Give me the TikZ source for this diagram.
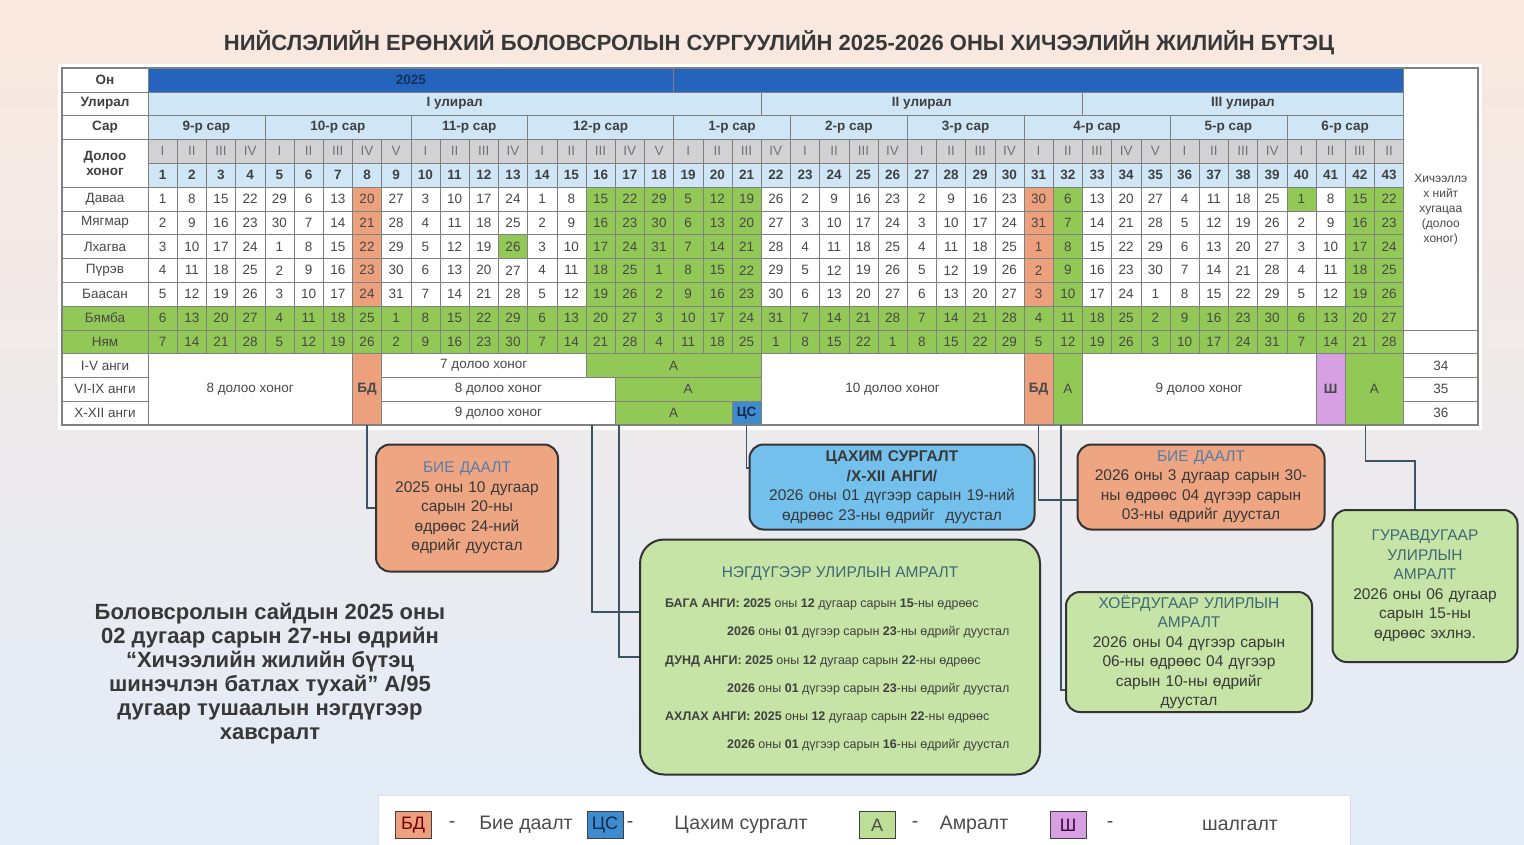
\documentclass[tikz,border=0pt]{standalone}
\usepackage{fontspec}
\setmainfont{Liberation Sans}

\definecolor{bgtop}{RGB}{249,232,222}
\definecolor{bgmid}{RGB}{236,246,234}
\definecolor{bgbot}{RGB}{226,236,249}
\definecolor{yearblue}{RGB}{36,100,188}
\definecolor{paleblue}{RGB}{206,230,246}
\definecolor{weekgray}{RGB}{210,210,212}
\definecolor{offgreen}{RGB}{146,200,86}
\definecolor{selforange}{RGB}{236,160,124}
\definecolor{onlineblue}{RGB}{62,140,205}
\definecolor{exampink}{RGB}{214,160,226}
\definecolor{gridgray}{RGB}{128,128,128}
\definecolor{linkblue}{RGB}{58,84,102}
\definecolor{boxorange}{RGB}{238,165,130}
\definecolor{boxblue}{RGB}{116,192,236}
\definecolor{boxgreen}{RGB}{198,228,165}
\definecolor{titleteal}{RGB}{62,104,118}
\definecolor{titlesteel}{RGB}{88,124,168}
\definecolor{inkgray}{RGB}{72,72,72}

\tikzset{
  cell/.style={draw=gridgray, line width=0.6pt, inner sep=0pt, text=inkgray,
    font=\fontsize{13.5}{14}\selectfont},
  headcell/.style={cell, text=black!75, font=\bfseries\fontsize{13.5}{14}\selectfont},
  callout/.style={draw=black!80, line width=2pt, rounded corners=14pt, align=center,
    inner sep=2pt, text=black!78, font=\fontsize{15.5}{19.5}\selectfont},
  link/.style={draw=linkblue, line width=1.6pt},
  keybox/.style={draw=black!75, line width=0.8pt, minimum width=36pt, minimum height=27pt,
    inner sep=0pt, font=\fontsize{18}{18}\selectfont},
  keytext/.style={inner sep=0pt, text=black!70, font=\fontsize{19.5}{20}\selectfont},
  resttext/.style={anchor=west, inner sep=0pt, text=black!75, font=\fontsize{12.5}{13}\selectfont}
}

% cell over columns #3..#4 and rows #5..#5+#6-1
\newcommand\blockcell[8][]{%
  \pgfmathsetmacro\bx{148+(#3-1+#4)/2*29.2}%
  \pgfmathsetmacro\by{68+(#5+#6/2)*23.8}%
  \pgfmathsetmacro\bw{(#4-#3+1)*29.2}%
  \pgfmathsetmacro\bh{#6*23.8}%
  \node[cell, fill=#7, minimum width=\bw pt, minimum height=\bh pt, #1] (#2) at (\bx,\by) {#8};}

\begin{document}
\begin{tikzpicture}[x=1pt, y=-1pt]
  \useasboundingbox (0,0) rectangle (1524,844);
  \shade[top color=bgtop, middle color=bgmid, bottom color=bgbot] (0,0) rectangle (1524,844);

  \node[font=\bfseries\fontsize{22}{22}\selectfont, text=black!78] (title) at (779,43)
    {НИЙСЛЭЛИЙН ЕРӨНХИЙ БОЛОВСРОЛЫН СУРГУУЛИЙН 2025-2026 ОНЫ ХИЧЭЭЛИЙН ЖИЛИЙН БҮТЭЦ};

  \fill[white] (58,64) rectangle (1482,430);

  % year, semester, month
  \blockcell[text=yearblue!50!black, font=\bfseries\fontsize{13.5}{14}\selectfont]{yr25}{1}{18}{0}{1}{yearblue}{2025}
  \blockcell{yr26}{19}{43}{0}{1}{yearblue}{}
  \foreach \a/\b/\t [count=\i] in {1/21/I улирал, 22/32/II улирал, 33/43/III улирал}
    {\blockcell[headcell]{sem-\i}{\a}{\b}{1}{1}{paleblue}{\t}}
  \foreach \a/\b/\t [count=\i] in {1/4/9-р сар, 5/9/10-р сар, 10/13/11-р сар, 14/18/12-р сар,
      19/22/1-р сар, 23/26/2-р сар, 27/30/3-р сар, 31/35/4-р сар, 36/39/5-р сар, 40/43/6-р сар}
    {\blockcell[headcell]{mon-\i}{\a}{\b}{2}{1}{paleblue}{\t}}

  % weeks
  \foreach \w [count=\k] in {I,II,III,IV, I,II,III,IV,V, I,II,III,IV, I,II,III,IV,V,
      I,II,III,IV, I,II,III,IV, I,II,III,IV, I,II,III,IV,V, I,II,III,IV, I,II,III,II}{
    \pgfmathsetmacro\px{148+(\k-0.5)*29.2}
    \node[cell, fill=weekgray, text=black!55, minimum width=29.2pt, minimum height=23.8pt]
      (wk-\k) at (\px,{68+3.5*23.8}) {\w};
    \node[headcell, fill=paleblue, minimum width=29.2pt, minimum height=23.8pt]
      (num-\k) at (\px,{68+4.5*23.8}) {\k};
  }

  % days: Monday date / month length
  \foreach \m/\len [count=\k] in {1/30,8/30,15/30,22/30, 29/30,6/31,13/31,20/31,27/31,
      3/30,10/30,17/30,24/30, 1/31,8/31,15/31,22/31,29/31, 5/31,12/31,19/31,26/31,
      2/28,9/28,16/28,23/28, 2/31,9/31,16/31,23/31, 30/31,6/30,13/30,20/30,27/30,
      4/31,11/31,18/31,25/31, 1/30,8/30,15/30,22/30}{
    \foreach \r in {0,...,6}{
      \pgfmathtruncatemacro\dd{mod(\m+\r-1,\len)+1}
      \pgfmathtruncatemacro\kind{((\r>4)||(\k>15&&\k<22)||(\k==32)||(\k>41)||(\k==13&&\r==2)||(\k==40&&\r==0)) ? 1 : (((\k==8)||(\k==31)) ? 2 : 0)}
      \ifcase\kind \def\cc{white}\or \def\cc{offgreen}\or \def\cc{selforange}\fi
      \pgfmathsetmacro\px{148+(\k-0.5)*29.2}
      \node[cell, fill=\cc, minimum width=29.2pt, minimum height=23.8pt]
        (d-\k-\r) at (\px,{68+(5.5+\r)*23.8}) {\dd};
    }
  }

  % left labels
  \foreach \t [count=\i from 0] in {Он, Улирал, Сар}
    \node[headcell, fill=white, minimum width=86pt, minimum height=23.8pt]
      (lab-\i) at (105,{68+(\i+0.5)*23.8}) {\t};
  \node[headcell, fill=white, align=center, minimum width=86pt, minimum height=47.6pt,
    font=\bfseries\fontsize{13.5}{15}\selectfont] (lab-week) at (105,{68+4*23.8}) {Долоо\\хоног};
  \foreach \t/\f [count=\i from 5] in {Даваа/white, Мягмар/white, Лхагва/white, Пүрэв/white,
      Баасан/white, Бямба/offgreen, Ням/offgreen, I-V анги/white, VI-IX анги/white, X-XII анги/white}
    \node[cell, fill=\f, minimum width=86pt, minimum height=23.8pt]
      (lab-\i) at (105,{68+(\i+0.5)*23.8}) {\t};

  % grades
  \blockcell{w8}{1}{7}{12}{3}{white}{8 долоо хоног}
  \blockcell[font=\bfseries\fontsize{13.5}{14}\selectfont]{bdA}{8}{8}{12}{3}{selforange}{БД}
  \blockcell{w7a}{9}{15}{12}{1}{white}{7 долоо хоног}
  \blockcell{aI}{16}{21}{12}{1}{offgreen}{А}
  \blockcell{w8b}{9}{16}{13}{1}{white}{8 долоо хоног}
  \blockcell{aII}{17}{21}{13}{1}{offgreen}{А}
  \blockcell{w9a}{9}{16}{14}{1}{white}{9 долоо хоног}
  \blockcell{aIII}{17}{20}{14}{1}{offgreen}{А}
  \blockcell[text=yearblue!40!black, font=\bfseries\fontsize{13.5}{14}\selectfont]{csX}{21}{21}{14}{1}{onlineblue}{ЦС}
  \blockcell{w10}{22}{30}{12}{3}{white}{10 долоо хоног}
  \blockcell[font=\bfseries\fontsize{13.5}{14}\selectfont]{bdB}{31}{31}{12}{3}{selforange}{БД}
  \blockcell{aB}{32}{32}{12}{3}{offgreen}{А}
  \blockcell{w9b}{33}{40}{12}{3}{white}{9 долоо хоног}
  \blockcell[font=\bfseries\fontsize{13.5}{14}\selectfont]{exam}{41}{41}{12}{3}{exampink}{Ш}
  \blockcell{aC}{42}{43}{12}{3}{offgreen}{А}

  % total weeks
  \node[cell, fill=white, minimum width=74.4pt, minimum height=261.8pt] (total) at (1440.8,{68+5.5*23.8}) {};
  \node[align=center, text=inkgray, font=\fontsize{12}{15}\selectfont] (total-txt) at (1440.8,210)
    {Хичээллэ\\х нийт\\хугацаа\\(долоо\\хоног)};
  \foreach \n [count=\i from 12] in {34,35,36}
    \node[cell, fill=white, minimum width=74.4pt, minimum height=23.8pt]
      (sum-\n) at (1440.8,{68+(\i+0.5)*23.8}) {\n};

  \draw[gridgray, line width=1.2pt] (62,68) rectangle (1478,425);

  % callouts
  \node[callout, fill=boxorange, minimum width=182pt, minimum height=127pt, text width=174pt]
    (bdNote1) at (467,508)
    {{\color{titlesteel}БИЕ ДААЛТ}\\2025 оны 10 дугаар\\сарын 20-ны\\өдрөөс 24-ний\\өдрийг дуустал};
  \node[callout, fill=boxblue, minimum width=285pt, minimum height=85pt, text width=277pt]
    (csNote) at (892,487)
    {\textbf{ЦАХИМ СУРГАЛТ}\\\textbf{/X-XII АНГИ/}\\2026 оны 01 дүгээр сарын 19-ний\\өдрөөс 23-ны өдрийг~ дуустал};
  \node[callout, fill=boxorange, minimum width=247pt, minimum height=85pt, text width=239pt]
    (bdNote2) at (1201,487)
    {{\color{titlesteel}БИЕ ДААЛТ}\\2026 оны 3 дугаар сарын 30-\\ны өдрөөс 04 дүгээр сарын\\03-ны өдрийг дуустал};
  \node[callout, fill=boxgreen, rounded corners=24pt, minimum width=400pt, minimum height=235pt]
    (restNote1) at (840,657) {};
  \node[callout, fill=boxgreen, minimum width=246pt, minimum height=120pt, text width=240pt]
    (restNote2) at (1189,652)
    {{\color{titleteal}ХОЁРДУГААР УЛИРЛЫН}\\{\color{titleteal}АМРАЛТ}\\2026 оны 04 дүгээр сарын\\06-ны өдрөөс 04 дүгээр\\сарын 10-ны өдрийг\\дуустал};
  \node[callout, fill=boxgreen, minimum width=185pt, minimum height=152pt, text width=179pt]
    (restNote3) at (1425,586)
    {{\color{titleteal}ГУРАВДУГААР}\\{\color{titleteal}УЛИРЛЫН}\\{\color{titleteal}АМРАЛТ}\\2026 оны 06 дугаар\\сарын 15-ны\\өдрөөс эхлнэ.};

  \node[text=titleteal, font=\fontsize{15.5}{16}\selectfont] (rest-head) at (840,574) {НЭГДҮГЭЭР УЛИРЛЫН АМРАЛТ};
  \node[resttext] (rest-l1) at (665,604) {\textbf{БАГА АНГИ: 2025} оны \textbf{12} дугаар сарын \textbf{15}-ны өдрөөс};
  \node[resttext] (rest-l2) at (727,632) {\textbf{2026} оны \textbf{01} дүгээр сарын \textbf{23}-ны өдрийг дуустал};
  \node[resttext] (rest-l3) at (665,661) {\textbf{ДУНД АНГИ: 2025} оны \textbf{12} дугаар сарын \textbf{22}-ны өдрөөс};
  \node[resttext] (rest-l4) at (727,689) {\textbf{2026} оны \textbf{01} дүгээр сарын \textbf{23}-ны өдрийг дуустал};
  \node[resttext] (rest-l5) at (665,717) {\textbf{АХЛАХ АНГИ: 2025} оны \textbf{12} дугаар сарын \textbf{22}-ны өдрөөс};
  \node[resttext] (rest-l6) at (727,745) {\textbf{2026} оны \textbf{01} дүгээр сарын \textbf{16}-ны өдрийг дуустал};

  % connectors
  \coordinate (drop16) at (592,425);
  \coordinate (drop17) at (619,425);
  \draw[link] (bdA.south) |- (bdNote1.west);
  \draw[link] (drop16) |- ([yshift=45pt]restNote1.west);
  \draw[link] (drop17) |- (restNote1.west);
  \draw[link] (csX.south) |- ([yshift=19pt]csNote.west);
  \draw[link] (bdB.south) |- ([yshift=-13pt]bdNote2.west);
  \draw[link] ([xshift=-7pt]aB.south) |- ([yshift=-38pt]restNote2.west);
  \draw[link] ([xshift=-9pt]aC.south) |- ([xshift=-10pt,yshift=48pt]restNote3.north) -- ([xshift=-10pt]restNote3.north);

  \node[align=center, font=\bfseries\fontsize{22}{24}\selectfont, text=black!78] (order) at (270,674)
    {Боловсролын сайдын 2025 оны\\02 дугаар сарын 27-ны өдрийн\\“Хичээлийн жилийн бүтэц\\шинэчлэн батлах тухай” А/95\\дугаар тушаалын нэгдүгээр\\хавсралт};

  % legend
  \draw[draw=black!12, fill=white] (378,795) rectangle (1350,852);
  \node[keybox, fill=selforange, text=red!45!black] (key-bd) at (413,825) {БД};
  \node[keytext] (key-bd-dash) at (452,825) {-};
  \node[keytext] (key-bd-txt) at (526,825) {Бие даалт};
  \node[keybox, fill=onlineblue, text=yearblue!40!black] (key-cs) at (605,825) {ЦС};
  \node[keytext] (key-cs-dash) at (630,825) {-};
  \node[keytext] (key-cs-txt) at (741,825) {Цахим сургалт};
  \node[keybox, fill=boxgreen!80!offgreen, text=black!70] (key-a) at (877,825) {А};
  \node[keytext] (key-a-dash) at (915,825) {-};
  \node[keytext] (key-a-txt) at (974,825) {Амралт};
  \node[keybox, fill=exampink, text=violet!50!black] (key-sh) at (1068,825) {Ш};
  \node[keytext] (key-sh-dash) at (1110,825) {-};
  \node[keytext] (key-sh-txt) at (1240,825) {шалгалт};
\end{tikzpicture}
\end{document}
